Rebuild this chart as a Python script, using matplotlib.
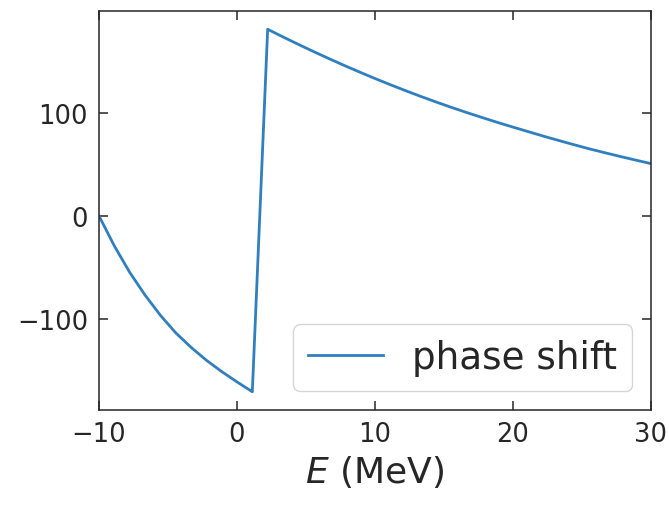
import numpy as np
import matplotlib
matplotlib.use("Agg")
import matplotlib.pyplot as plt

# Energy grid (MeV) and phase shift (deg)
energy = np.linspace(-10, 30, 37)
phase = [0, -29, -54.5, -76.5, -96, -113, -127, -139.5, -150.5, -160.5, -170,
         180.5, 173.1, 165.9, 158.9, 152.1, 145.5, 139.1, 132.9, 126.9, 121.1,
         115.5, 110.1, 104.9, 99.9, 95.1, 90.4, 85.9, 81.5, 77.1, 72.9, 68.8,
         64.8, 61.1, 57.5, 54.0, 50.6]

ink = "0.15"
plt.rcParams["text.color"] = ink
plt.rcParams["axes.edgecolor"] = ink
plt.rcParams["xtick.color"] = ink
plt.rcParams["ytick.color"] = ink
plt.rcParams["axes.labelcolor"] = ink

fig = plt.figure(figsize=(6.69, 5.06), dpi=100)
ax = fig.add_axes([0.148, 0.188, 0.825, 0.788])

ax.plot(energy, phase, color="#2f7fc1", lw=2.0, label="phase shift")
ax.set_xlim(-10, 30)
ax.set_xticks([-10, 0, 10, 20, 30])
ax.set_yticks([-100, 0, 100])
ax.tick_params(direction="in", top=True, right=True, length=6.5, width=1.1,
               labelsize=18.5, pad=8)
for s in ax.spines.values():
    s.set_linewidth(1.1)

ax.set_xlabel("$E$ (MeV)", fontsize=26, labelpad=4)
ax.legend(loc="lower right", fontsize=26.8, handlelength=2.0)

fig.savefig("out.png", dpi=100)
